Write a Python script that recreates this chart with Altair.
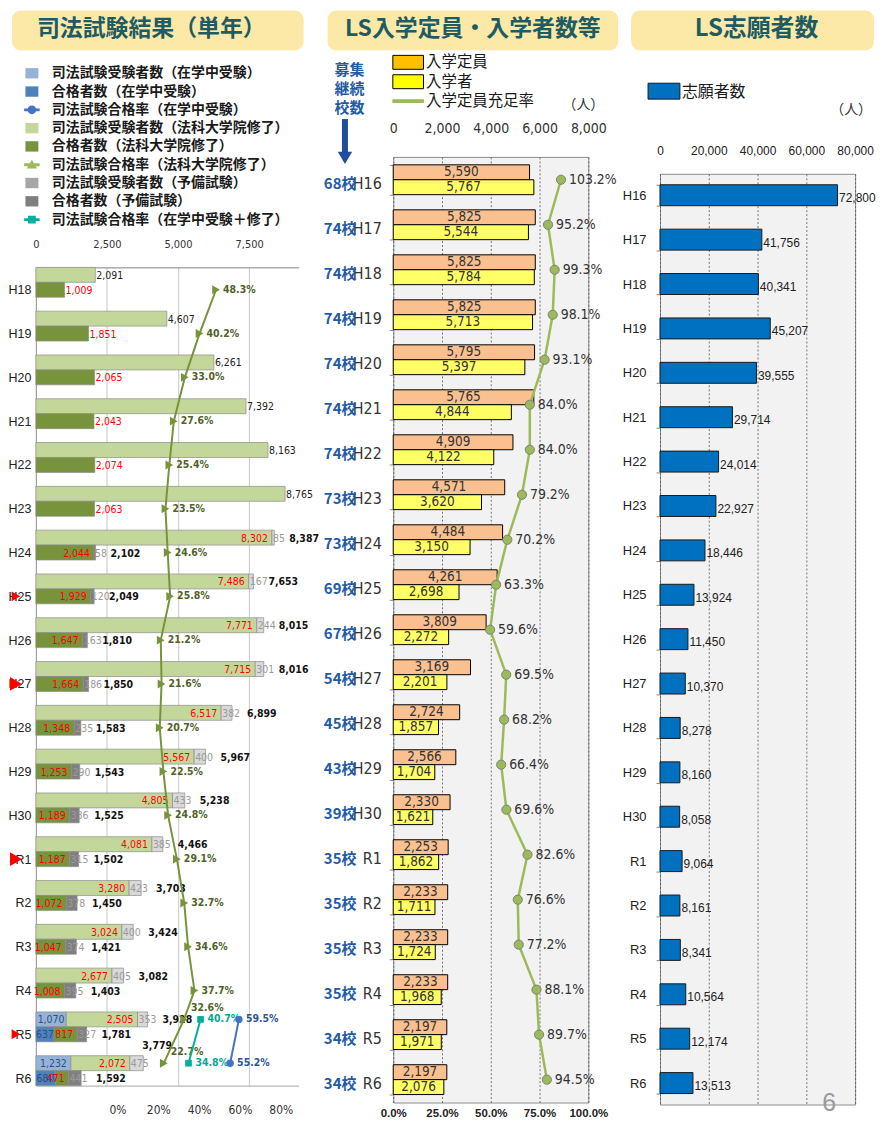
import altair as alt
import pandas as pd

NARROW = "Liberation Sans Narrow, DejaVu Sans Condensed, Liberation Sans, Arial, sans-serif"
SANS = "Liberation Sans, Arial, sans-serif"
JP = "Noto Sans CJK JP, Noto Sans, sans-serif"
TITLE_FILL = "#fce9a7"
TITLE_COLOR = "#1e5b63"

# ---------------- left panel: 司法試験結果（単年） ----------------
years_l = ["H18", "H19", "H20", "H21", "H22", "H23", "H24", "H25", "H26", "H27",
           "H28", "H29", "H30", "R1", "R2", "R3", "R4", "R5", "R6"]
ls_exam = [2091, 4607, 6261, 7392, 8163, 8765, 8302, 7486, 7771, 7715,
           6517, 5567, 4805, 4081, 3280, 3024, 2677, 2505, 2072]
ls_pass = [1009, 1851, 2065, 2043, 2074, 2063, 2044, 1929, 1647, 1664,
           1348, 1253, 1189, 1187, 1072, 1047, 1008, 817, 471]
yobi_exam = [0, 0, 0, 0, 0, 0, 85, 167, 244, 301, 382, 400, 433, 385, 423, 400, 405, 353, 475]
yobi_pass = [0, 0, 0, 0, 0, 0, 58, 120, 163, 186, 235, 290, 336, 315, 378, 374, 395, 327, 441]
zai_exam = [0] * 17 + [1070, 1232]
zai_pass = [0] * 17 + [637, 680]
ls_rate = [48.3, 40.2, 33.0, 27.6, 25.4, 23.5, 24.6, 25.8, 21.2, 21.6,
           20.7, 22.5, 24.8, 29.1, 32.7, 34.6, 37.7, 32.6, 22.7]
zai_years = ["R5", "R6"]
zai_rate = [59.5, 55.2]
comb_rate = [40.7, 34.8]
arrow_years = ["H25", "H27", "R1", "R5"]

legend_names = ["司法試験受験者数（在学中受験）", "合格者数（在学中受験）", "司法試験合格率（在学中受験）",
                "司法試験受験者数（法科大学院修了）", "合格者数（法科大学院修了）", "司法試験合格率（法科大学院修了）",
                "司法試験受験者数（予備試験）", "合格者数（予備試験）", "司法試験合格率（在学中受験＋修了）"]

# ---------------- middle panel: LS入学定員・入学者数等 ----------------
years_m = ["H16", "H17", "H18", "H19", "H20", "H21", "H22", "H23", "H24", "H25", "H26",
           "H27", "H28", "H29", "H30", "R1", "R2", "R3", "R4", "R5", "R6"]
capacity = [5590, 5825, 5825, 5825, 5795, 5765, 4909, 4571, 4484, 4261, 3809,
            3169, 2724, 2566, 2330, 2253, 2233, 2233, 2233, 2197, 2197]
entrants = [5767, 5544, 5784, 5713, 5397, 4844, 4122, 3620, 3150, 2698, 2272,
            2201, 1857, 1704, 1621, 1862, 1711, 1724, 1968, 1971, 2076]
fill_rate = [103.2, 95.2, 99.3, 98.1, 93.1, 84.0, 84.0, 79.2, 70.2, 63.3, 59.6,
             69.5, 68.2, 66.4, 69.6, 82.6, 76.6, 77.2, 88.1, 89.7, 94.5]
schools = [68, 74, 74, 74, 74, 74, 74, 73, 73, 69, 67, 54, 45, 43, 39, 35, 35, 35, 35, 34, 34]

# ---------------- right panel: LS志願者数 ----------------
applicants = [72800, 41756, 40341, 45207, 39555, 29714, 24014, 22927, 18446, 13924, 11450,
              10370, 8278, 8160, 8058, 9064, 8161, 8341, 10564, 12174, 13513]

# =================================================================
ROW_E, ROW_P = "受験者数", "合格者数"
ROWS = [ROW_E, ROW_P]
seg_color = {"zai_e": "#95b3d7", "zai_p": "#4f81bd", "ls_e": "#c4d79b",
             "ls_p": "#77933c", "yobi_e": "#d9d9d9", "yobi_p": "#808080"}

segs, labs = [], []
for i, yr in enumerate(years_l):
    for row, z, l, yb in [(ROW_E, zai_exam[i], ls_exam[i], yobi_exam[i]),
                          (ROW_P, zai_pass[i], ls_pass[i], yobi_pass[i])]:
        suf = "_e" if row == ROW_E else "_p"
        start = 0
        for key, v in [("zai", z), ("ls", l), ("yobi", yb)]:
            if v > 0:
                segs.append(dict(year=yr, row=row, x0=start, x1=start + v, color=seg_color[key + suf]))
            start += v
        if z > 0:
            labs.append(dict(year=yr, row=row, kind="zai", x=z / 2, text=f"{z:,}", color="#2b4f80"))
        if z == 0 and yb == 0:
            labs.append(dict(year=yr, row=row, kind="plain", x=l, text=f"{l:,}",
                             color="#222222" if row == ROW_E else "#ff0000"))
        else:
            labs.append(dict(year=yr, row=row, kind="in", x=z + l, text=f"{l:,}", color="#ff0000"))
        if yb > 0:
            labs.append(dict(year=yr, row=row, kind="yobi", x=z + l, text=f"{yb:,}", color="#9a9a9a"))
            # the last exam total sits above its bar in the original
            kind = "total_hi" if (yr == years_l[-1] and row == ROW_E) else "total"
            labs.append(dict(year=yr, row=row, kind=kind, x=z + l + yb, text=f"{z + l + yb:,}", color="#111111"))
seg_df = pd.DataFrame(segs)
lab_df = pd.DataFrame(labs)

xL = alt.Scale(domain=[0, 9243], nice=False, zero=False)
pL = alt.Scale(domain=[-0.4, 0.8878], nice=False, zero=False)
yL = alt.Scale(domain=years_l, paddingInner=0.318, paddingOuter=0)
offL = alt.Scale(domain=ROWS, paddingInner=0, paddingOuter=0)
Y_AXIS_L = alt.Axis(title=None, labelFont=SANS, labelFontSize=12.5, labelColor="#222", ticks=False,
                    domain=True, domainColor="#9a9a9a", labelPadding=5, labelOffset=8)


def yl():
    return alt.Y("year:N", sort=years_l, scale=yL, axis=Y_AXIS_L)


def ol():
    return alt.YOffset("row:N", sort=ROWS, scale=offL)


bars_L = alt.Chart(seg_df).mark_bar(stroke="#8c8c8c", strokeWidth=0.7).encode(
    x=alt.X("x0:Q", scale=xL, axis=alt.Axis(orient="top", values=[0, 2500, 5000, 7500], format=",d",
                                             grid=True, gridColor="#c8c8c8", ticks=False, tickSize=0,
                                             domain=True, domainColor="#808080", labelPadding=18,
                                             labelFont=NARROW, labelFontSize=11, labelColor="#333",
                                             labelOverlap=False, labelFlush=False, title=None)),
    x2="x1:Q",
    y=yl(),
    yOffset=ol(),
    color=alt.Color("color:N", scale=None),
)


def lab_layer(kind, align, dx, weight="normal", dy=1):
    d = lab_df[lab_df["kind"] == kind]
    return alt.Chart(d).mark_text(align=align, baseline="middle", dx=dx, dy=dy, font=NARROW,
                                  fontSize=10.5, fontWeight=weight).encode(
        x=alt.X("x:Q", scale=xL, axis=None), y=yl(), yOffset=ol(),
        text="text:N", color=alt.Color("color:N", scale=None))


n_green = len(years_l)
green_df = pd.DataFrame({"year": years_l, "r": [v / 100 for v in ls_rate],
                         "row": [ROW_P] * (n_green - 2) + [ROW_E, ROW_E], "i": list(range(n_green)),
                         "lab": [f"{v:.1f}%" for v in ls_rate],
                         "hi": [False] * (n_green - 2) + [True, True]})
blue_df = pd.DataFrame({"year": zai_years, "r": [v / 100 for v in zai_rate], "row": [ROW_E] * 2,
                        "i": [0, 1], "lab": [f"{v:.1f}%" for v in zai_rate], "hi": [False, False]})
teal_df = pd.DataFrame({"year": zai_years, "r": [v / 100 for v in comb_rate], "row": [ROW_E] * 2,
                        "i": [0, 1], "lab": [f"{v:.1f}%" for v in comb_rate], "hi": [False, False]})

pct_axis = alt.Axis(orient="bottom", values=[0, 0.2, 0.4, 0.6, 0.8], format=".0%", grid=False,
                    ticks=False, tickSize=0, domain=True, domainColor="#a6a6a6", labelPadding=19,
                    labelFont=NARROW, labelFontSize=12, labelColor="#333", labelOverlap=False,
                    labelFlush=False, title=None)


def rate_layers(df, color, shape, size, text_color, axis=None, sw=2):
    enc = dict(y=yl(), yOffset=ol())
    line = alt.Chart(df).mark_line(color=color, strokeWidth=sw).encode(
        x=alt.X("r:Q", scale=pL, axis=axis), order=alt.Order("i:Q"), **enc)
    pts = alt.Chart(df).mark_point(shape=shape, filled=True, size=size, color=color, opacity=1).encode(
        x=alt.X("r:Q", scale=pL, axis=None), **enc)
    out = [line, pts]
    for hi, dy in [(False, 0), (True, -11)]:
        d = df[df["hi"] == hi]
        if len(d):
            out.append(alt.Chart(d).mark_text(align="left", baseline="middle", dx=7, dy=dy, font=NARROW,
                                              fontSize=10.5, fontWeight="bold", color=text_color).encode(
                x=alt.X("r:Q", scale=pL, axis=None), text="lab:N", **enc))
    return out


arrow_df = pd.DataFrame({"year": arrow_years, "row": [ROW_P, ROW_P, ROW_P, ROW_P],
                         "s": [100, 190, 190, 100]})
arrows_L = alt.Chart(arrow_df).mark_point(shape="triangle-right", filled=True, color="#ff0000",
                                          opacity=1).encode(
    x=alt.value(-20), y=yl(), yOffset=ol(), size=alt.Size("s:Q", scale=None))

main_L = alt.layer(
    bars_L,
    lab_layer("zai", "center", 0),
    lab_layer("plain", "left", 1),
    lab_layer("in", "right", -4),
    lab_layer("yobi", "left", 1),
    lab_layer("total", "left", 15, "bold"),
    lab_layer("total_hi", "left", -1, "bold", dy=-17),
    *rate_layers(green_df, "#77933c", "triangle-right", 80, "#4f6228", axis=pct_axis),
    *rate_layers(teal_df, "#00b09a", "square", 45, "#00a896"),
    *rate_layers(blue_df, "#4472c4", "circle", 55, "#2e5597"),
    arrows_L,
).resolve_scale(x="independent").properties(width=264, height=822)


def frame_layer(x0, x1):
    # thin white strip fixing the horizontal extent of a column
    d = pd.DataFrame({"f": [0]})
    return alt.Chart(d).mark_rect(fill="#ffffff", opacity=1).encode(
        x=alt.value(x0), x2=alt.value(x1), y=alt.value(0), y2=alt.value(0.5))


def title_layer(text, x0, x1, xc, size=23):
    d = pd.DataFrame({"t": [text]})
    box = alt.Chart(d).mark_rect(fill=TITLE_FILL, cornerRadius=9).encode(
        x=alt.value(x0), x2=alt.value(x1), y=alt.value(0), y2=alt.value(40))
    txt = alt.Chart(d).mark_text(font=JP, fontSize=size, fontWeight="bold", color=TITLE_COLOR,
                                 align="center", baseline="middle").encode(
        x=alt.value(xc), y=alt.value(19), text="t:N")
    return [box, txt]


def legend_y(first, step, height):
    lo = -first / step
    return alt.Y("i:Q", scale=alt.Scale(domain=[lo, lo + height / step], reverse=True, nice=False, zero=False),
                 axis=None)


SQ = "M-1,-0.8H1V0.8H-1Z"
LINE = "M-1.2,-0.22H1.2V0.22H-1.2Z"
CIRC = "M0.68,0A0.68,0.68,0,1,1,-0.68,0A0.68,0.68,0,1,1,0.68,0Z"
TRI = "M0,-0.75L0.8,0.6H-0.8Z"
SMSQ = "M-0.6,-0.6H0.6V0.6H-0.6Z"
leg_df = pd.DataFrame({
    "name": legend_names,
    "i": list(range(len(legend_names))),
    "color": ["#95b3d7", "#4f81bd", "#4472c4", "#c4d79b", "#77933c", "#9bbb59", "#a6a6a6", "#7f7f7f", "#00b09a"],
    "shape": [SQ, SQ, LINE + CIRC, SQ, SQ, LINE + TRI, SQ, SQ, LINE + SMSQ],
})
leg_y = legend_y(63, 18.375, 258)
leg_sym = alt.Chart(leg_df).mark_point(filled=True, size=169, opacity=1).encode(
    x=alt.value(-4), y=leg_y, shape=alt.Shape("shape:N", scale=None), color=alt.Color("color:N", scale=None))
leg_txt = alt.Chart(leg_df).mark_text(align="left", baseline="middle", font=JP, fontSize=14,
                                      fontWeight="bold", color="#1a1a1a").encode(
    x=alt.value(16), y=leg_y, text="name:N")
head_L = alt.layer(frame_layer(-28, 283), *title_layer("司法試験結果（単年）", -24, 269, 116),
                   leg_sym, leg_txt).properties(width=264, height=258)

# ----------------------------- middle -----------------------------
S_CAP, S_ENT = "入学定員", "入学者"
m_rows = []
for i, yr in enumerate(years_m):
    m_rows.append(dict(year=yr, s=S_CAP, v=capacity[i], h=capacity[i] / 2, t=f"{capacity[i]:,}"))
    m_rows.append(dict(year=yr, s=S_ENT, v=entrants[i], h=entrants[i] / 2, t=f"{entrants[i]:,}"))
m_df = pd.DataFrame(m_rows)
rate_m = pd.DataFrame({"year": years_m, "r": [v / 100 for v in fill_rate], "i": list(range(len(years_m))),
                       "lab": [f"{v:.1f}%" for v in fill_rate], "sch": [f"{v}校" for v in schools]})

xM = alt.Scale(domain=[0, 8000], nice=False, zero=False)
rM = alt.Scale(domain=[0, 1.2], nice=False, zero=False)
yM = alt.Scale(domain=years_m, paddingInner=0.337, paddingOuter=0.177)
offM = alt.Scale(domain=[S_CAP, S_ENT], paddingInner=0, paddingOuter=0)
Y_AXIS_M = alt.Axis(title=None, labelFont=NARROW, labelFontSize=16, labelColor="#333", labelPadding=8,
                    labelOffset=4, ticks=True, tickBand="extent", tickSize=4, tickColor="#888",
                    domain=False)


def ym():
    return alt.Y("year:N", sort=years_m, scale=yM, axis=Y_AXIS_M)


def om():
    return alt.YOffset("s:N", sort=[S_CAP, S_ENT], scale=offM)


bars_M = alt.Chart(m_df).mark_bar(stroke="#000000", strokeWidth=1).encode(
    x=alt.X("v:Q", scale=xM, axis=alt.Axis(orient="top", values=[0, 2000, 4000, 6000, 8000], format=",d",
                                            grid=True, gridDash=[2, 2], gridColor="#555555", gridWidth=0.8,
                                            ticks=False, tickSize=0, domain=False, labelPadding=21,
                                            labelFont=NARROW, labelFontSize=14, labelColor="#333",
                                            labelOverlap=False, labelFlush=False, title=None)),
    y=ym(),
    yOffset=om(),
    color=alt.Color("s:N", scale=alt.Scale(domain=[S_CAP, S_ENT], range=["#fac090", "#ffff66"]), legend=None),
)
bar_txt_M = alt.Chart(m_df).mark_text(baseline="middle", font=NARROW, fontSize=13.5, color="#333").encode(
    x=alt.X("h:Q", scale=xM, axis=None), y=ym(), yOffset=om(), text="t:N")
line_M = alt.Chart(rate_m).mark_line(color="#9bbb59", strokeWidth=2.5).encode(
    x=alt.X("r:Q", scale=rM, axis=None), y=ym(), order=alt.Order("i:Q"))
pts_M = alt.Chart(rate_m).mark_circle(size=85, fill="#9bbb59", stroke="#7f7f7f", strokeWidth=1,
                                      opacity=1).encode(x=alt.X("r:Q", scale=rM, axis=None), y=ym())
rtxt_M = alt.Chart(rate_m).mark_text(align="left", baseline="middle", dx=8, font=NARROW, fontSize=14,
                                     color="#333").encode(
    x=alt.X("r:Q", scale=rM, axis=None), y=ym(), text="lab:N")
sch_M = alt.Chart(rate_m).mark_text(align="right", baseline="middle", dy=4, font=JP, fontSize=15,
                                    fontWeight="bold", color="#1f5ba6").encode(
    x=alt.value(-37), y=ym(), text="sch:N")
axis_M = alt.Chart(pd.DataFrame({"v": [0]})).mark_point(opacity=0).encode(
    x=alt.X("v:Q", scale=alt.Scale(domain=[0, 1], nice=False, zero=False),
            axis=alt.Axis(orient="bottom", values=[0, 0.25, 0.5, 0.75, 1], format=".1%", grid=False,
                          ticks=False, tickSize=0, domain=False, labelPadding=5, labelFont=SANS,
                          labelFontSize=11.5, labelFontWeight="bold", labelColor="#222",
                          labelOverlap=False, labelFlush=False, title=None)))
main_M = alt.layer(bars_M, bar_txt_M, line_M, pts_M, rtxt_M, sch_M, axis_M).resolve_scale(
    x="independent").properties(width=196, height=950,
                                view=alt.ViewBackground(fill="#f2f2f2", stroke="#8c8c8c"))

SW = "M-2.2,-1H2.2V1H-2.2Z"
SWL = "M-2.2,-0.2H2.2V0.2H-2.2Z"
legM_names = ["入学定員", "入学者", "入学定員充足率"]
legM_df = pd.DataFrame({"name": legM_names, "i": [0, 1, 2], "fill": ["#ffc000", "#ffff00", "#9bbb59"],
                        "stroke": ["#000000", "#000000", "#9bbb59"], "shape": [SW, SW, SWL]})
legM_y = legend_y(52, 19.5, 147)
legM_sym = alt.Chart(legM_df).mark_point(filled=True, size=196, opacity=1, strokeWidth=1).encode(
    x=alt.value(15), y=legM_y, shape=alt.Shape("shape:N", scale=None),
    fill=alt.Fill("fill:N", scale=None), stroke=alt.Stroke("stroke:N", scale=None))
legM_txt = alt.Chart(legM_df).mark_text(align="left", baseline="middle", font=JP, fontSize=15.5,
                                        color="#1a1a1a").encode(x=alt.value(33), y=legM_y, text="name:N")
note_df = pd.DataFrame({"t": ["（人）"], "v": ["募集\n継続\n校数"]})
unit_M = alt.Chart(note_df).mark_text(align="right", baseline="middle", font=JP, fontSize=14,
                                      color="#333").encode(x=alt.value(212), y=alt.value(95), text="t:N")
vert_M = alt.Chart(note_df).mark_text(align="center", baseline="top", lineBreak="\n", lineHeight=19,
                                      font=JP, fontSize=15, fontWeight="bold", color="#1f5ba6").encode(
    x=alt.value(-44), y=alt.value(53), text="v:N")
shaft_M = alt.Chart(note_df).mark_rule(color="#1f4e9c", strokeWidth=6).encode(
    x=alt.value(-48.5), y=alt.value(109), y2=alt.value(143))
head_arrow_M = alt.Chart(note_df).mark_point(shape="triangle-down", filled=True, size=210,
                                             color="#1f4e9c", opacity=1).encode(
    x=alt.value(-48.5), y=alt.value(148))
head_M = alt.layer(frame_layer(-72, 227), *title_layer("LS入学定員・入学者数等", -66, 226, 80),
                   legM_sym, legM_txt, unit_M, vert_M, shaft_M, head_arrow_M).properties(width=196, height=147)

# ----------------------------- right -----------------------------
r_df = pd.DataFrame({"year": years_m, "v": applicants, "t": [f"{v:,}" for v in applicants]})
xR = alt.Scale(domain=[0, 80000], nice=False, zero=False)
yR = alt.Scale(domain=years_m, paddingInner=0.528, paddingOuter=0.247)
Y_AXIS_R = alt.Axis(title=None, labelFont=SANS, labelFontSize=13, labelColor="#222", labelPadding=10,
                    ticks=True, tickBand="extent", tickSize=4, tickColor="#888", domain=False)
X_AXIS_R = alt.Axis(orient="top", values=[0, 20000, 40000, 60000, 80000], format=",d",
                    grid=True, gridDash=[2, 2], gridColor="#555555", gridWidth=0.8,
                    ticks=False, tickSize=0, domain=False, labelPadding=16, labelOverlap=False,
                    labelFlush=False, labelFont=SANS, labelFontSize=12, labelColor="#222", title=None)
bars_R = alt.Chart(r_df).mark_bar(color="#0070c0", stroke="#1a1a1a", strokeWidth=1).encode(
    x=alt.X("v:Q", scale=xR, axis=X_AXIS_R),
    y=alt.Y("year:N", sort=years_m, scale=yR, axis=Y_AXIS_R),
)
txt_R = alt.Chart(r_df).mark_text(align="left", baseline="middle", dx=1.5, dy=3, font=SANS, fontSize=12,
                                  color="#222").encode(
    x=alt.X("v:Q", scale=xR, axis=X_AXIS_R), y=alt.Y("year:N", sort=years_m, scale=yR, axis=Y_AXIS_R),
    text="t:N")
page_df = pd.DataFrame({"t": ["6"]})
page_R = alt.Chart(page_df).mark_text(font=SANS, fontSize=25, color="#999999", baseline="middle").encode(
    x=alt.value(170), y=alt.value(934), text="t:N")
main_R = alt.layer(bars_R, txt_R, page_R).properties(
    width=196, height=935, view=alt.ViewBackground(fill="#f2f2f2", stroke="#8c8c8c"))

legR_df = pd.DataFrame({"name": ["志願者数"], "shape": ["M-2,-1H2V1H-2Z"], "u": ["（人）"]})
legR_sym = alt.Chart(legR_df).mark_point(filled=True, size=256, opacity=1, fill="#0070c0", stroke="#1a1a1a",
                                         strokeWidth=1).encode(
    x=alt.value(4), y=alt.value(81), shape=alt.Shape("shape:N", scale=None))
legR_txt = alt.Chart(legR_df).mark_text(align="left", baseline="middle", font=JP, fontSize=16,
                                        color="#1a1a1a").encode(x=alt.value(22), y=alt.value(82), text="name:N")
unit_R = alt.Chart(legR_df).mark_text(align="right", baseline="middle", font=JP, fontSize=14,
                                      color="#333").encode(x=alt.value(213), y=alt.value(100), text="u:N")
head_R = alt.layer(frame_layer(-38, 215), *title_layer("LS志願者数", -29, 215, 97, 24),
                   legR_sym, legR_txt, unit_R).properties(width=196, height=164)

col_L = alt.vconcat(head_L, main_L, spacing=0, bounds="flush").resolve_scale(yOffset="independent")
col_M = alt.vconcat(head_M, main_M, spacing=0, bounds="flush").resolve_scale(yOffset="independent")
col_R = alt.vconcat(head_R, main_R, spacing=0, bounds="flush").resolve_scale(yOffset="independent")

chart = alt.hconcat(col_L, col_M, col_R, spacing=2, bounds="full").resolve_scale(
    yOffset="independent").properties(padding=0).configure_view(stroke=None)

chart.save("out.html", embed_options={"renderer": "svg", "actions": False})
